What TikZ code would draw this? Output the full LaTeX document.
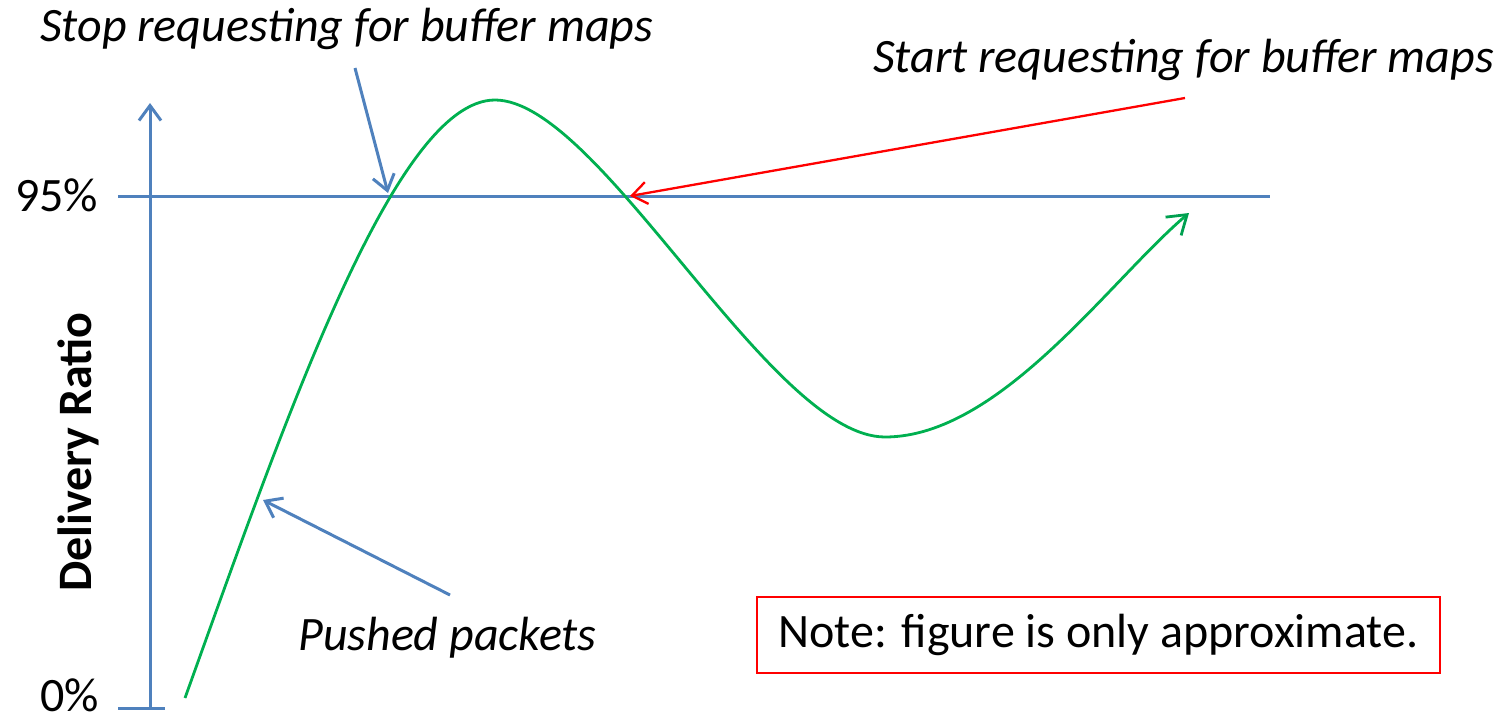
\documentclass[tikz,border=0pt]{standalone}
\usepackage{fontspec}
\setmainfont{Carlito}
\usetikzlibrary{arrows.meta}
\definecolor{axblue}{HTML}{4F81BD}
\definecolor{cgreen}{HTML}{00B050}
\definecolor{tipgreen}{HTML}{00A050}
\definecolor{cred}{HTML}{FF0000}
\tikzset{
  lbl/.style={anchor=base west, inner sep=0pt, font=\fontsize{48}{58}\selectfont},
  ilbl/.style={lbl, font=\fontsize{48}{58}\selectfont\itshape},
  bluearrow/.style={draw=axblue, line width=3pt, -{Straight Barb[length=15pt,width=22pt,line width=3pt]}},
  blueline/.style={draw=axblue, line width=3pt},
  redarrow/.style={draw=cred, line width=2.3pt, -{Straight Barb[length=15pt,width=22pt,line width=2.3pt]}},
  curve/.style={draw=cgreen, line width=2.8pt, -{Straight Barb[length=18pt,width=24pt,line width=2.8pt,color=tipgreen]}},
  notebox/.style={draw=cred, line width=2.3pt, inner sep=0pt, minimum width=683pt, minimum height=76pt, font=\fontsize{48}{58}\selectfont},
}
\begin{document}
\begin{tikzpicture}[x=1pt,y=-1pt]
\useasboundingbox (0,0) rectangle (1505,717);
% axes
\coordinate (ybot) at (150,708);
\coordinate (ytop) at (150,103);
\coordinate (b0l) at (118,708);
\coordinate (b0r) at (165,708);
\coordinate (h95l) at (118,196);
\coordinate (h95r) at (1270,196);
\draw[bluearrow] (ybot) -- (ytop);
\draw[blueline] (b0l) -- (b0r);
\draw[blueline] (h95l) -- (h95r);
% labels
\node[lbl] (p95) at (15,211) {95\%};
\node[lbl] (p0) at (40,711) {0\%};
\node[inner sep=0pt, rotate=90, font=\fontsize{48}{58}\selectfont\bfseries] (ylab) at (78,452) {Delivery Ratio};
% curve
\coordinate (c0) at (185,698);
\coordinate (cpeak) at (495,100);
\coordinate (ctrough) at (885,437);
\coordinate (cend) at (1189,213);
\draw[curve] (c0) .. controls (285,420) and (395,100) .. (cpeak)
  .. controls (600,100) and (770,437) .. (ctrough)
  .. controls (1000,437) and (1110,280) .. (cend);
% annotations
\node[ilbl] (stop) at (40,42) {Stop requesting for buffer maps};
\node[ilbl] (start) at (873,73) {Start requesting for buffer maps};
\node[ilbl] (push) at (298,650) {Pushed packets};
\coordinate (stopfrom) at (355,68);
\coordinate (stopto) at (388,193);
\coordinate (startfrom) at (1185,98);
\coordinate (startto) at (630,196);
\coordinate (pushfrom) at (450,595);
\coordinate (pushto) at (263,500);
\draw[bluearrow] (stopfrom) -- (stopto);
\draw[redarrow] (startfrom) -- (startto);
\draw[bluearrow] (pushfrom) -- (pushto);
% note
\node[notebox] (note) at (1098.5,635) {Note: figure is only approximate.};
\end{tikzpicture}
\end{document}
